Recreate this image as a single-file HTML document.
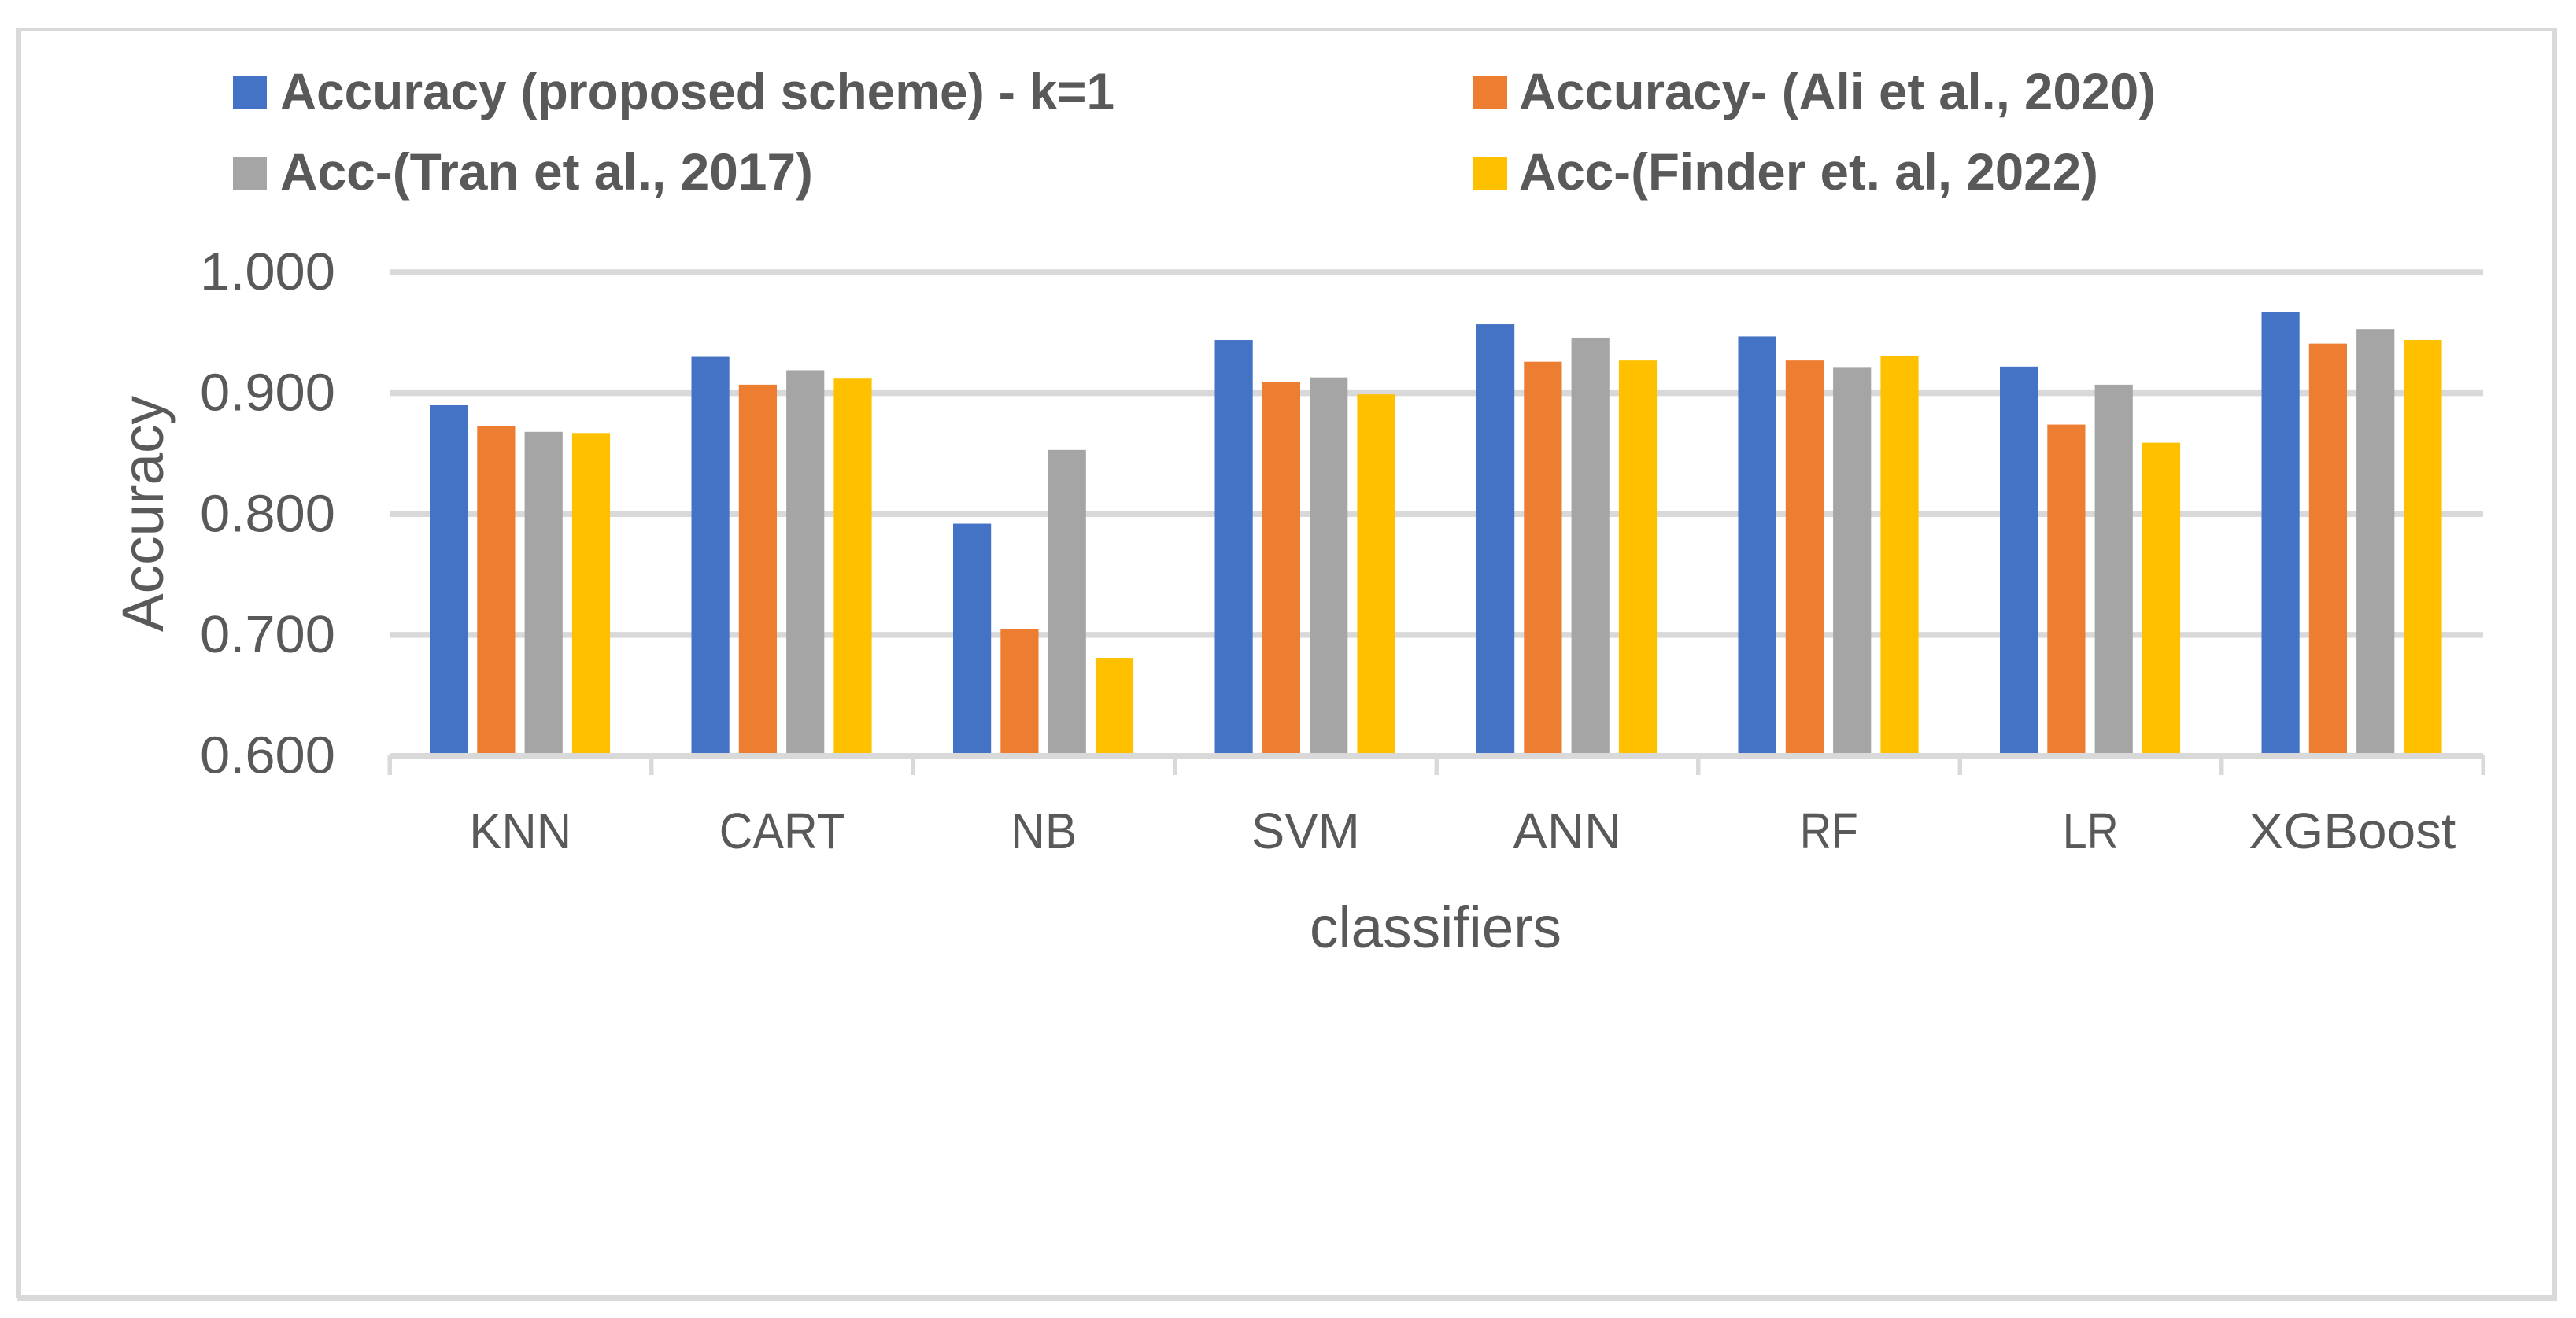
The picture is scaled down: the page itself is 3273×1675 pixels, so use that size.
<!DOCTYPE html>
<html lang="en">
<head>
<meta charset="utf-8">
<title>Classifier accuracy comparison</title>
<style>
  html, body { margin: 0; padding: 0; background: #fff; }
  svg { display: block; }
  text { font-family: "Liberation Sans", sans-serif; fill: #595959; }
  .legend-text { font-size: 66px; font-weight: bold; }
  .tick-text { font-size: 67px; }
  .cat-text { font-size: 64px; }
  .title-text { font-size: 74px; }
</style>
</head>
<body>
<svg id="chart" xmlns="http://www.w3.org/2000/svg" width="3273" height="1675" viewBox="0 0 3273 1675">
  <rect x="0" y="0" width="3273" height="1675" fill="#ffffff"/>
  <g fill="#d9d9d9">
    <rect x="20" y="36" width="3229" height="4"/>
    <rect x="20" y="36" width="7" height="1614"/>
    <rect x="3242" y="36" width="7" height="1617"/>
    <rect x="21" y="1646" width="3228" height="7"/>
  </g>
  <g id="grid"></g>
  <g id="bars"></g>
  <g id="axes"></g>
  <g id="legend"></g>
  <text class="title-text" x="1664" y="1204" textLength="320" lengthAdjust="spacingAndGlyphs">classifiers</text>
  <text class="title-text" transform="translate(207,803) rotate(-90)" x="0" y="0" textLength="300" lengthAdjust="spacingAndGlyphs">Accuracy</text>
</svg>
<script>
const categories = ["KNN", "CART", "NB", "SVM", "ANN", "RF", "LR", "XGBoost"];
const seriesNames = ["Accuracy (proposed scheme) - k=1", "Accuracy- (Ali et al., 2020)", "Acc-(Tran et al., 2017)", "Acc-(Finder et. al, 2022)"];
const proposedValues = [0.890, 0.930, 0.792, 0.944, 0.957, 0.947, 0.922, 0.967];
const aliValues = [0.873, 0.907, 0.705, 0.909, 0.926, 0.927, 0.874, 0.941];
const tranValues = [0.868, 0.919, 0.853, 0.913, 0.946, 0.921, 0.907, 0.953];
const finderValues = [0.867, 0.912, 0.681, 0.899, 0.927, 0.931, 0.859, 0.944];
const yTickValues = [0.6, 0.7, 0.8, 0.9, 1.0];
const yTickLabels = ["0.600", "0.700", "0.800", "0.900", "1.000"];

const NS = "http://www.w3.org/2000/svg";
const allSeries = [proposedValues, aliValues, tranValues, finderValues];
const seriesColors = ["#4472C4", "#ED7D31", "#A5A5A5", "#FFC000"];
const seriesKeys = ["proposed", "ali", "tran", "finder"];

// Layout (pixels)
const plotLeft = 495, plotRight = 3155, yBase = 960.5, yTop = 346;
const yMin = 0.6, yMax = 1.0;
const barWidth = 48.2, barStep = 60.3, groupPad = 51;
const bandWidth = (plotRight - plotLeft) / categories.length;

function yScale(v) { return yBase - (v - yMin) / (yMax - yMin) * (yBase - yTop); }
function bandLeft(i) { return plotLeft + bandWidth * i; }
function barX(i, j) { return bandLeft(i) + groupPad + barStep * j; }

function make(tag, attrs, parent) {
  const el = document.createElementNS(NS, tag);
  for (const k in attrs) el.setAttribute(k, attrs[k]);
  parent.appendChild(el);
  return el;
}

const gridG = document.getElementById("grid");
const barsG = document.getElementById("bars");
const axesG = document.getElementById("axes");
const legendG = document.getElementById("legend");

// Gridlines and y tick labels
yTickValues.forEach(function (v, idx) {
  const y = yScale(v);
  if (idx > 0) {
    const line = make("rect", { x: plotLeft, y: y - 3.75, width: plotRight - plotLeft, height: 7.5, fill: "#d9d9d9" }, gridG);
    
    
  }
  const label = make("text", { x: 254, y: y + 22, "class": "tick-text", textLength: 172, lengthAdjust: "spacingAndGlyphs" }, axesG);
  label.textContent = yTickLabels[idx];
  
  
});

// Bars
allSeries.forEach(function (values, j) {
  values.forEach(function (v, i) {
    const top = yScale(v);
    const bar = make("rect", { x: barX(i, j), y: top, width: barWidth, height: yScale(yMin) - top, fill: seriesColors[j] }, barsG);
    
    
    bar.setAttribute('data-series', seriesKeys[j]);
    bar.setAttribute('data-category', categories[i]);
  });
});

// X axis line and ticks
const axisLine = make("rect", { x: plotLeft, y: 957, width: plotRight - plotLeft, height: 7, fill: "#d9d9d9" }, axesG);



for (let i = 0; i <= categories.length; i++) {
  const tick = make("rect", { x: bandLeft(i) - 2.5, y: 960, width: 5.5, height: 25, fill: "#d9d9d9" }, axesG);
  
  
}

// Category labels: rendered width of each label, to fit the original typeface
const catLabelFit = { KNN: 130, CART: 160, NB: 84, SVM: 138, ANN: 138, RF: 74, LR: 71, XGBoost: 263 };
categories.forEach(function (c, i) {
  const w = catLabelFit[c] || 130;
  const label = make("text", { x: bandLeft(i) + bandWidth / 2 - w / 2, y: 1078, "class": "cat-text", textLength: w, lengthAdjust: "spacingAndGlyphs" }, axesG);
  label.textContent = c;
  
  
});

// Legend
const legendSwatchX = [296, 1872, 296, 1872];
const legendSwatchY = [96, 96, 199, 199];
const legendSwatchH = [43, 43, 42, 42];
const legendTextX = [356, 1930, 356, 1930];
const legendBaseline = [139, 139, 241, 241];
const legendTextW = [1060, 809, 677, 736];
seriesNames.forEach(function (name, j) {
  const swatch = make("rect", { x: legendSwatchX[j], y: legendSwatchY[j], width: 43, height: legendSwatchH[j], fill: seriesColors[j] }, legendG);
  
  
  const label = make("text", { x: legendTextX[j], y: legendBaseline[j], "class": "legend-text", textLength: legendTextW[j], lengthAdjust: "spacingAndGlyphs" }, legendG);
  label.textContent = name;
  
  
});
</script>
</body>
</html>
